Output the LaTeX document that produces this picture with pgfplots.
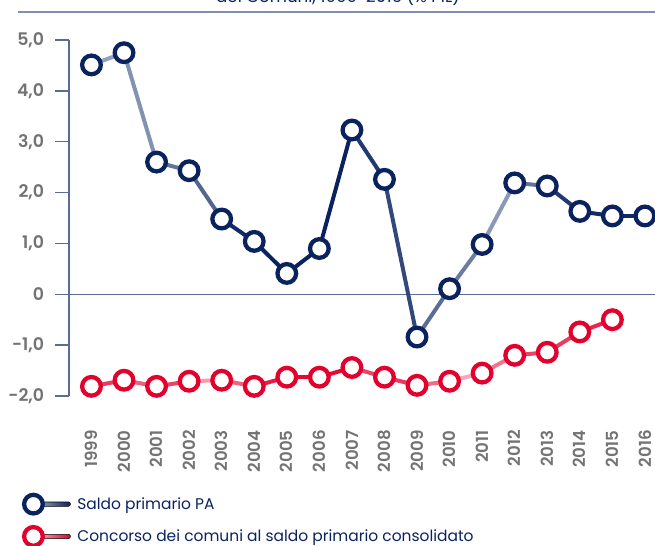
\documentclass[border=0pt]{standalone}
\usepackage{fontspec}
\setmainfont{Poppins}
\newfontfamily\tickfont{Poppins SemiBold}
\usepackage{pgfplots}
\usepackage{pgfplotstable}
\pgfplotsset{compat=1.18}

\definecolor{navy}{RGB}{10,35,95}
\definecolor{crimson}{RGB}{227,0,45}
\definecolor{axisblue}{RGB}{90,108,147}
\definecolor{rulegray}{RGB}{128,143,175}
\definecolor{tickgray}{RGB}{115,115,115}

\pgfplotsset{
  colormap={navyseg}{rgb255=(10,35,95) rgb255=(170,182,206)},
  colormap={redseg}{rgb255=(227,0,45) rgb255=(249,195,208)},
}

% year, value, shade of the segment that starts at this year (0 dark, 1 light)
\pgfplotstableread{
yr   pa     s
1999  4.51  0.85
2000  4.75  0.75
2001  2.60  0.55
2002  2.43  0.45
2003  1.48  0.05
2004  1.04  0.0
2005  0.41  0.0
2006  0.90  0.0
2007  3.23  0.15
2008  2.26  0.25
2009 -0.84  0.50
2010  0.11  0.60
2011  0.98  0.80
2012  2.19  0.55
2013  2.13  0.15
2014  1.63  0.05
2015  1.54  0.05
2016  1.54  0.05
}\tblpa

\pgfplotstableread{
yr   cc     s
1999 -1.81  0.30
2000 -1.69  0.50
2001 -1.81  0.35
2002 -1.71  0.80
2003 -1.69  0.50
2004 -1.81  0.15
2005 -1.63  0.05
2006 -1.63  0.05
2007 -1.44  0.35
2008 -1.63  0.30
2009 -1.79  0.55
2010 -1.71  0.85
2011 -1.55  0.60
2012 -1.20  0.35
2013 -1.14  0.30
2014 -0.74  0.20
2015 -0.50  0.20
}\tblcc

\begin{document}
\begin{tikzpicture}
\path[use as bounding box] (0,0) rectangle (491.25pt,-408.75pt);
\clip (0,0) rectangle (491.25pt,-408.75pt);

% remnant of the title and its rule
\node[anchor=base, text=navy, font=\fontsize{12.5}{14}\selectfont, inner sep=0pt]
  at (253.5pt,-1.9pt) {dei Comuni, 1999-2016 (\% PIL)};
\draw[rulegray, line width=1.7pt] (13.2pt,-9pt) -- (491.25pt,-9pt);

\begin{axis}[
  scale only axis,
  width=439.5pt, height=267pt,
  at={(51.75pt,-297pt)}, anchor=south west,
  xmin=1998.31, xmax=2016.31,
  ymin=-2, ymax=5,
  clip=false,
  axis lines*=left,
  axis line style={draw=axisblue, line width=1pt},
  x axis line style={draw=none},
  xtick={1999,...,2016},
  xtick style={draw=none},
  xticklabels={1999,2000,2001,2002,2003,2004,2005,2006,2007,2008,2009,2010,
    2011,2012,2013,2014,2015,2016},
  xticklabel style={yshift=-15pt, rotate=90, anchor=east, text=tickgray,
    font=\tickfont\fontsize{12.5}{13}\selectfont, inner sep=0pt},
  ytick={-2,...,5},
  yticklabels={{-2,0},{-1,0},0,{1,0},{2,0},{3,0},{4,0},{5,0}},
  yticklabel style={text=tickgray, font=\tickfont\fontsize{13}{15}\selectfont,
    inner sep=0pt, xshift=-8pt},
  ytick style={draw=axisblue, line width=1pt},
  tick align=outside,
  major tick length=10.5pt,
  extra y ticks={0},
  extra y tick labels={},
  extra y tick style={grid=major, major grid style={draw=axisblue, line width=1pt},
    major tick length=0pt},
  point meta min=0, point meta max=1,
  legend style={at={(axis description cs:-0.0807,-0.2708)}, anchor=north west,
    draw=none, fill=none, inner sep=0pt, row sep=7pt,
    font=\fontsize{11.6}{13}\selectfont, text=navy,
    /tikz/every odd column/.append style={column sep=3pt}},
  legend cell align=left,
]

\addplot[mesh, shader=flat corner, colormap name=navyseg, line width=3pt,
  line cap=round, point meta=explicit, forget plot]
  table[x=yr, y=pa, meta=s] {\tblpa};
\addplot[mesh, shader=flat corner, colormap name=redseg, line width=3pt,
  line cap=round, point meta=explicit, forget plot]
  table[x=yr, y=cc, meta=s] {\tblcc};

\addplot[only marks, mark=*, mark size=7pt,
  mark options={draw=navy, fill=white, line width=3.2pt}, forget plot]
  table[x=yr, y=pa] {\tblpa};
\addplot[only marks, mark=*, mark size=7pt,
  mark options={draw=crimson, fill=white, line width=3.2pt}, forget plot]
  table[x=yr, y=cc] {\tblcc};

\addlegendimage{legend image code/.code={
  \shade[left color=navy!35, right color=navy, rounded corners=1.5pt]
    (0pt,-1.6pt) rectangle (27.75pt,1.6pt);
  \draw[navy, line width=3.2pt, fill=white] (0pt,0pt) circle (7pt);}}
\addlegendentry{Saldo primario PA}
\addlegendimage{legend image code/.code={
  \shade[left color=crimson!25, right color=crimson, rounded corners=1.5pt]
    (0pt,-1.6pt) rectangle (27.75pt,1.6pt);
  \draw[crimson, line width=3.2pt, fill=white] (0pt,0pt) circle (7pt);}}
\addlegendentry{Concorso dei comuni al saldo primario consolidato}

\end{axis}
\end{tikzpicture}
\end{document}
